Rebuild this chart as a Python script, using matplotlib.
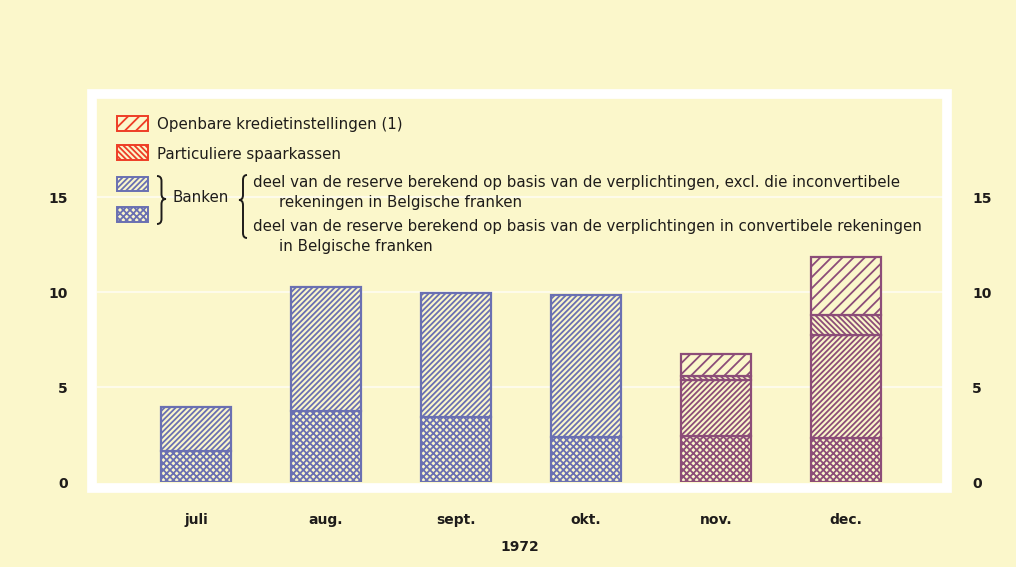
import matplotlib
matplotlib.use("Agg")
import matplotlib.pyplot as plt
import numpy as np
from matplotlib.patches import Rectangle, PathPatch
from matplotlib.path import Path

# waarden (miljard F)
months = ['juli', 'aug.', 'sept.', 'okt.', 'nov.', 'dec.']
banken_conv = [1.65, 3.75, 3.4, 2.35, 2.4, 2.3]
banken_excl = [2.3, 6.5, 6.55, 7.5, 2.95, 5.45]
particuliere = [0, 0, 0, 0, 0.25, 1.05]
openbare = [0, 0, 0, 0, 1.15, 3.05]
yticks = [0, 5, 10, 15]

BG = '#fbf7cb'
BLUE = '#6a70b2'
MAUVE = '#8c4d78'
RED = '#ee3d26'
TXT = '#1e1c1a'
bar_edge = [BLUE, BLUE, BLUE, BLUE, MAUVE, MAUVE]

# arceringen
H_CROSS = 'x' * 5
H_DIAG = '/' * 6
H_PART = '\\' * 6
H_OPEN = '/' * 3

plt.rcParams['hatch.linewidth'] = 1.3
plt.rcParams['font.family'] = ['DejaVu Sans']

W, H = 1016, 567
fig = plt.figure(figsize=(W / 100, H / 100), dpi=100, facecolor=BG)


def fx(x):
    return x / W


def fy(y):
    return 1 - y / H


# witte kader
fig.patches.append(Rectangle((fx(92), fy(488)), fx(947) - fx(92), fy(94) - fy(488),
                             transform=fig.transFigure, fill=False,
                             edgecolor='white', linewidth=7, zorder=0))

ax = fig.add_axes([fx(97), fy(482), fx(943) - fx(97), fy(99) - fy(482)])
ax.set_facecolor('none')
x = np.arange(len(months))
ax.set_xlim(-0.762, 5.746)
ax.set_ylim(0, 20.16)

for yv in yticks[1:]:
    ax.axhline(yv, color='white', lw=1.5, alpha=0.6, zorder=0)

width = 0.54
bottom = np.zeros(len(months))
segments = [(banken_conv, H_CROSS), (banken_excl, H_DIAG),
            (particuliere, H_PART), (openbare, H_OPEN)]
for vals, hatch in segments:
    vals = np.array(vals, dtype=float)
    for i in range(len(months)):
        if vals[i] > 0:
            ax.bar(x[i], vals[i], width, bottom=bottom[i], facecolor=BG,
                   edgecolor=bar_edge[i], hatch=hatch, linewidth=1.6, zorder=2)
    bottom += vals

for s in ax.spines.values():
    s.set_visible(False)
ax.set_yticks(yticks)
ax.tick_params(axis='y', length=0, labelsize=10, labelcolor=TXT, labelright=True)
for t in ax.yaxis.get_major_ticks():
    t.label1.set_fontweight('bold')
    t.label2.set_fontweight('bold')
    t.set_pad(21)
ax.set_xticks(x)
ax.set_xticklabels(months, fontsize=10, fontweight='bold', color=TXT)
ax.tick_params(axis='x', length=0, pad=22)
ax.set_xlabel('1972', fontsize=10, fontweight='bold', color=TXT, labelpad=10)


# legenda
def swatch(x0, y0, x1, y1, color, hatch):
    fig.patches.append(Rectangle((fx(x0), fy(y1)), fx(x1) - fx(x0), fy(y0) - fy(y1),
                                 transform=fig.transFigure, facecolor=BG,
                                 edgecolor=color, hatch=hatch, linewidth=1.4))


def brace(xt, xb, y0, ym, y1):
    # xt = punt van de accolade, xb = uiteinden
    xm = (xt + xb) / 2
    c = 5
    pts = [(xb, y0), (xm, y0), (xm, y0 + c), (xm, ym - c), (xm, ym), (xt, ym),
           (xm, ym), (xm, ym + c), (xm, y1 - c), (xm, y1), (xb, y1)]
    codes = [Path.MOVETO, Path.CURVE3, Path.CURVE3, Path.LINETO,
             Path.CURVE3, Path.CURVE3, Path.CURVE3, Path.CURVE3,
             Path.LINETO, Path.CURVE3, Path.CURVE3]
    p = Path([(fx(a), fy(b)) for a, b in pts], codes)
    fig.patches.append(PathPatch(p, transform=fig.transFigure, fill=False,
                                 edgecolor=TXT, linewidth=1.4))


swatch(117, 116, 148, 131, RED, H_OPEN)
swatch(117, 145, 148, 160, RED, H_PART)
swatch(117, 177, 148, 191, BLUE, H_DIAG)
swatch(117, 207, 148, 222, BLUE, H_CROSS)
brace(166, 157, 176, 199, 224)
brace(239, 247, 175, 200, 238)

tk = dict(fontsize=10.8, color=TXT, va='center', ha='left', transform=fig.transFigure)
fig.text(fx(157), fy(125), 'Openbare kredietinstellingen (1)', **tk)
fig.text(fx(157), fy(154), 'Particuliere spaarkassen', **tk)
fig.text(fx(172), fy(198), 'Banken', **tk)
fig.text(fx(253), fy(182), 'deel van de reserve berekend op basis van de verplichtingen, excl. die inconvertibele', **tk)
fig.text(fx(279), fy(203), 'rekeningen in Belgische franken', **tk)
fig.text(fx(253), fy(226), 'deel van de reserve berekend op basis van de verplichtingen in convertibele rekeningen', **tk)
fig.text(fx(279), fy(246), 'in Belgische franken', **tk)

fig.savefig('out.png', dpi=100, facecolor=BG)
